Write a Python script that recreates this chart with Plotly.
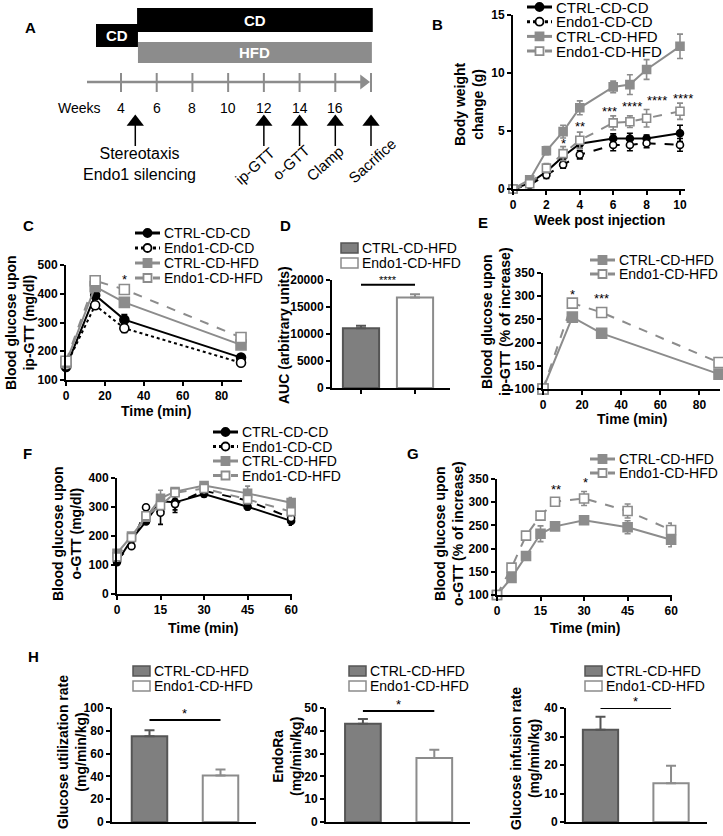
import plotly.graph_objects as go

W, H = 723, 836
FONT = "Liberation Sans, Arial, sans-serif"
BLACK = "#000000"
GRAY = "#8c8c8c"
BARGRAY = "#7f7f7f"

# ------------------------------------------------------------------ data
SERIES = ["CTRL-CD-CD", "Endo1-CD-CD", "CTRL-CD-HFD", "Endo1-CD-HFD"]
HFD_SERIES = ["CTRL-CD-HFD", "Endo1-CD-HFD"]

# A: protocol timeline (weeks)
a_ticks = [4, 6, 8, 10, 12, 14, 16]
a_end_week = 18
a_diets = [("CD", 2.6, 4.95), ("CD", 4.9, 18.1), ("HFD", 4.95, 18.05)]
a_events = ["Stereotaxis<br>Endo1 silencing", "ip-GTT", "o-GTT", "Clamp", "Sacrifice"]
a_event_weeks = [4.8, 12, 14, 16, 18]

# B: body weight change (g)
b_weeks = [0, 1, 2, 3, 4, 6, 7, 8, 10]
b_ctrl_cd = [0, 0.5, 1.5, 2.8, 3.9, 4.35, 4.35, 4.35, 4.8]
b_ctrl_cd_err = [0.1, 0.2, 0.3, 0.3, 0.4, 0.4, 0.45, 0.3, 0.7]
b_endo_cd = [0, 0.35, 1.2, 2.1, 2.95, 3.8, 3.8, 3.95, 3.8]
b_endo_cd_err = [0.1, 0.2, 0.3, 0.3, 0.35, 0.5, 0.5, 0.4, 0.55]
b_ctrl_hfd = [0, 0.8, 3.3, 4.95, 7.0, 8.8, 9.0, 10.3, 12.3]
b_ctrl_hfd_err = [0.1, 0.3, 0.35, 0.55, 0.6, 0.5, 0.85, 0.85, 1.05]
b_endo_hfd = [0, 0.45, 1.8, 3.05, 4.2, 5.7, 5.8, 6.1, 6.7]
b_endo_hfd_err = [0.1, 0.3, 0.4, 0.6, 0.7, 0.6, 0.5, 0.75, 0.7]
b_stars = ["*", "**", "***", "****", "****", "****"]
b_stars_x = [3.0, 4.0, 5.8, 7.1, 8.6, 10.2]
b_stars_y = [3.9, 5.4, 6.7, 7.1, 7.6, 7.8]

# C: ip-GTT blood glucose (mg/dl)
c_time = [0, 15, 30, 90]
c_ctrl_cd = [145, 395, 310, 178]
c_ctrl_cd_err = [5, 15, 18, 6]
c_endo_cd = [150, 360, 280, 160]
c_endo_cd_err = [5, 12, 15, 5]
c_ctrl_hfd = [160, 425, 370, 222]
c_ctrl_hfd_err = [10, 10, 10, 10]
c_endo_hfd = [165, 445, 415, 248]
c_endo_hfd_err = [10, 12, 15, 15]
c_stars = ["*"]
c_stars_x = [30]
c_stars_y = [448]

# D: AUC (arbitrary units)
d_auc = [11050, 16750]
d_auc_err = [500, 600]
d_sig = ("****", 19100)

# E: ip-GTT % of increase
e_time = [0, 15, 30, 90]
e_ctrl_hfd = [100, 255, 220, 132]
e_ctrl_hfd_err = [3, 6, 6, 5]
e_endo_hfd = [100, 285, 265, 157]
e_endo_hfd_err = [3, 8, 8, 10]
e_stars = ["*", "***"]
e_stars_x = [15, 30]
e_stars_y = [304, 294]

# F: o-GTT blood glucose (mg/dl)
f_time = [0, 5, 10, 15, 20, 30, 45, 60]
f_ctrl_cd = [110, 188, 250, 320, 316, 345, 301, 252]
f_ctrl_cd_err = [8, 8, 8, 10, 35, 10, 10, 15]
f_endo_cd = [120, 165, 299, 280, 310, 356, 322, 262]
f_endo_cd_err = [8, 8, 8, 40, 20, 10, 10, 12]
f_ctrl_hfd = [140, 200, 265, 330, 353, 374, 347, 315]
f_ctrl_hfd_err = [10, 8, 10, 28, 10, 10, 25, 18]
f_endo_hfd = [128, 195, 270, 305, 349, 364, 326, 284]
f_endo_hfd_err = [10, 8, 10, 15, 10, 10, 15, 15]

# G: o-GTT % of increase
g_time = [0, 5, 10, 15, 20, 30, 45, 60]
g_ctrl_hfd = [100, 137, 184, 232, 248, 261, 246, 219]
g_ctrl_hfd_err = [3, 5, 5, 17, 5, 8, 14, 15]
g_endo_hfd = [100, 159, 228, 271, 301, 308, 281, 240]
g_endo_hfd_err = [3, 8, 6, 5, 5, 15, 15, 15]
g_stars = ["**", "*"]
g_stars_x = [20.3, 30.4]
g_stars_y = [327, 343]

# H: clamp
h_titles = ["Glucose utilization rate<br>(mg/min/kg)", "EndoRa<br>(mg/min/kg)",
            "Glucose infusion rate<br>(mg/min/kg)"]
h_values = [[75.3, 40.7], [43.1, 28.1], [32.4, 13.6]]
h_errors = [[5.2, 5.3], [2.1, 3.6], [4.5, 6.1]]
h_sig = [("*", 89.5), ("*", 48.7), ("*", 40.0)]

# ------------------------------------------------------------------ styles
STYLE = {
    "CTRL-CD-CD": dict(color=BLACK, dash="solid", symbol="circle", fill=BLACK),
    "Endo1-CD-CD": dict(color=BLACK, dash="dash", symbol="circle", fill="white"),
    "CTRL-CD-HFD": dict(color=GRAY, dash="solid", symbol="square", fill=GRAY),
    "Endo1-CD-HFD": dict(color=GRAY, dash="dash", symbol="square", fill="white"),
}
BAR_STYLE = {
    "CTRL-CD-HFD": dict(fill=BARGRAY, line="#555555"),
    "Endo1-CD-HFD": dict(fill="white", line=GRAY),
}
TICKFONT = dict(family=FONT, size=12, color=BLACK, weight="bold")
TITLEFONT = dict(family=FONT, size=14, color=BLACK, weight="bold")


def xd(a, b):
    return [a / W, b / W]


def yd(top, bottom):
    return [1 - bottom / H, 1 - top / H]


fig = go.Figure()
axes = {}

# overlay in pixel units, used for the legend keys
axes["xaxis"] = dict(domain=[0, 1], range=[0, W], visible=False, fixedrange=True)
axes["yaxis"] = dict(domain=[0, 1], range=[H, 0], visible=False, fixedrange=True)


def panel_axes(n, xpx, ypx, xr, yr, xdt=None, ydt=None, cat=False, xticks=True):
    base = dict(showline=True, linecolor=BLACK, linewidth=2, ticks="outside",
                ticklen=4, tickwidth=2, tickcolor=BLACK, showgrid=False,
                zeroline=False, tickfont=TICKFONT, fixedrange=True, automargin=False)
    xa = dict(base, domain=xd(*xpx), range=xr, anchor=f"y{n}")
    if cat:
        xa.update(type="category", showticklabels=False,
                  ticks="outside" if xticks else "")
    else:
        xa.update(dtick=xdt, tick0=0)
    ya = dict(base, domain=yd(*ypx), range=yr, anchor=f"x{n}", dtick=ydt, tick0=0,
              tickformat="d")
    axes[f"xaxis{n}"] = xa
    axes[f"yaxis{n}"] = ya


def add_series(n, xs, ys, errs, name, msize, lw=2, dash=None, capw=3):
    st = STYLE[name]
    fig.add_trace(go.Scatter(
        x=xs, y=ys, mode="lines+markers", xaxis=f"x{n}", yaxis=f"y{n}",
        line=dict(color=st["color"], width=lw, dash=dash or st["dash"]),
        marker=dict(symbol=st["symbol"], size=msize, color=st["fill"],
                    line=dict(color=st["color"], width=1.6)),
        error_y=dict(type="data", array=errs, color=st["color"], thickness=1.6, width=capw),
        showlegend=False, hoverinfo="skip", cliponaxis=False))


def add_stars(n, texts, xs, ys, size=13):
    for t, x, y in zip(texts, xs, ys):
        fig.add_annotation(x=x, y=y, xref=f"x{n}", yref=f"y{n}", text=t,
                           showarrow=False, font=dict(family=FONT, size=size, color=BLACK))


def add_bars(n, values, errors, width):
    for name, v, e in zip(HFD_SERIES, values, errors):
        st = BAR_STYLE[name]
        fig.add_trace(go.Bar(
            x=[name], y=[v], width=width, xaxis=f"x{n}", yaxis=f"y{n}",
            marker=dict(color=st["fill"], line=dict(color=st["line"], width=2)),
            error_y=dict(type="data", symmetric=False, array=[e], arrayminus=[0],
                         color=st["line"], thickness=2, width=5),
            showlegend=False, hoverinfo="skip"))


def add_sig(n, text, level, size=13):
    fig.add_trace(go.Scatter(x=HFD_SERIES, y=[level, level], mode="lines",
                             xaxis=f"x{n}", yaxis=f"y{n}", line=dict(color=BLACK, width=2),
                             showlegend=False, hoverinfo="skip", cliponaxis=False))
    fig.add_annotation(x=0.5, y=level, xref=f"x{n}", yref=f"y{n}", text=text,
                       showarrow=False, yanchor="bottom", yshift=-3,
                       font=dict(family=FONT, size=size, color=BLACK))


def line_key(x0, y0, dy, names, size=14, dashes=None, msize=8, lw=3):
    for i, name in enumerate(names):
        st = STYLE[name]
        y = y0 + i * dy
        dash = (dashes or {}).get(name, st["dash"])
        fig.add_trace(go.Scatter(x=[x0, x0 + 25], y=[y, y], mode="lines",
                                 line=dict(color=st["color"], width=lw, dash=dash),
                                 showlegend=False, hoverinfo="skip"))
        fig.add_trace(go.Scatter(x=[x0 + 12.5], y=[y], mode="markers",
                                 marker=dict(symbol=st["symbol"], size=msize, color=st["fill"],
                                             line=dict(color=st["color"], width=1.8)),
                                 showlegend=False, hoverinfo="skip"))
        fig.add_annotation(x=x0 + 27, y=y, xref="x", yref="y", text=name, showarrow=False,
                           xanchor="left", yanchor="middle",
                           font=dict(family=FONT, size=size, color=BLACK))


def box_key(x0, y0, dy, size=14):
    for i, name in enumerate(HFD_SERIES):
        st = BAR_STYLE[name]
        y = y0 + i * dy
        fig.add_shape(type="rect", xref="x", yref="y", x0=x0, x1=x0 + 17,
                      y0=y - 5, y1=y + 5, fillcolor=st["fill"],
                      line=dict(color=st["line"], width=1.5))
        fig.add_annotation(x=x0 + 19, y=y, xref="x", yref="y", text=name, showarrow=False,
                           xanchor="left", yanchor="middle",
                           font=dict(family=FONT, size=size, color=BLACK))


def text_px(x, y, text, font, angle=0, xanchor="center"):
    fig.add_annotation(x=x / W, y=1 - y / H, xref="paper", yref="paper", text=text,
                       showarrow=False, textangle=angle, xanchor=xanchor, yanchor="middle",
                       font=font)


# ------------------------------------------------------------------ A
PXW = 250 / 14  # px per week


def wk(px):
    return 4 + (px - 121) / PXW


axes["xaxis11"] = dict(domain=xd(40, 410), range=[wk(40), wk(410)], visible=False,
                       fixedrange=True, anchor="y11")
axes["yaxis11"] = dict(domain=[0, 1], range=[H, 0], visible=False, fixedrange=True,
                       anchor="x11")
diet_rows = [(24, 47, BLACK), (8, 32, BLACK), (42, 63, GRAY)]
for (label, w0, w1), (top, bot, col) in zip(a_diets, diet_rows):
    fig.add_shape(type="rect", xref="x11", yref="y11", x0=w0, x1=w1, y0=top, y1=bot,
                  fillcolor=col, line=dict(width=0))
    fig.add_annotation(x=(w0 + w1) / 2, y=(top + bot) / 2, xref="x11", yref="y11",
                       text=label, showarrow=False,
                       font=dict(family=FONT, size=15, color="white", weight="bold"))
fig.add_shape(type="line", xref="x11", yref="y11", x0=wk(87), x1=a_end_week - 0.4,
              y0=82, y1=82, line=dict(color=GRAY, width=2.5))
fig.add_trace(go.Scatter(x=[a_end_week - 0.42], y=[82], mode="markers", xaxis="x11", yaxis="y11",
                         marker=dict(symbol="triangle-right", size=13, color=GRAY),
                         showlegend=False, hoverinfo="skip"))
for w in a_ticks + [a_end_week]:
    fig.add_shape(type="line", xref="x11", yref="y11", x0=w, x1=w, y0=73, y1=92,
                  line=dict(color=GRAY, width=2))
for w in a_ticks:
    fig.add_annotation(x=w, y=108, xref="x11", yref="y11", text=str(w), showarrow=False,
                       font=dict(family=FONT, size=14, color=BLACK))
fig.add_annotation(x=wk(103), y=108, xref="x11", yref="y11", text="Weeks", showarrow=False,
                   xanchor="right", font=dict(family=FONT, size=14, color=BLACK))
fig.add_trace(go.Scatter(x=a_event_weeks, y=[122] * len(a_event_weeks), mode="markers",
                         xaxis="x11", yaxis="y11",
                         marker=dict(symbol="triangle-up", size=15, color=BLACK),
                         showlegend=False, hoverinfo="skip"))
for w in a_event_weeks:
    fig.add_shape(type="line", xref="x11", yref="y11", x0=w, x1=w, y0=124, y1=146,
                  line=dict(color=BLACK, width=1.5))
label_pos = [(0.26, 164, 0), (-0.5, 165, -42), (-0.5, 162, -42), (-0.6, 163, -42),
             (0.06, 160, -42)]
for text, w, (dx, y, ang) in zip(a_events, a_event_weeks, label_pos):
    fig.add_annotation(x=w + dx, y=y, xref="x11", yref="y11", text=text, showarrow=False,
                       textangle=ang, font=dict(family=FONT, size=16 if ang == 0 else 15,
                                                color=BLACK))

# ------------------------------------------------------------------ B
panel_axes(2, (513, 685), (15, 189), [0, 10.3], [0, 15], 2, 5)
add_series(2, b_weeks, b_ctrl_cd, b_ctrl_cd_err, "CTRL-CD-CD", 7)
add_series(2, b_weeks, b_endo_cd, b_endo_cd_err, "Endo1-CD-CD", 7)
add_series(2, b_weeks, b_ctrl_hfd, b_ctrl_hfd_err, "CTRL-CD-HFD", 8)
add_series(2, b_weeks, b_endo_hfd, b_endo_hfd_err, "Endo1-CD-HFD", 8)
add_stars(2, b_stars, b_stars_x, b_stars_y)
line_key(527, 7, 14.7, SERIES, size=15, dashes={"Endo1-CD-CD": "dot"})
text_px(469, 104, "Body weight<br>change (g)", TITLEFONT, -90)
text_px(599, 220, "Week post injection", TITLEFONT)

# ------------------------------------------------------------------ C
panel_axes(3, (66, 242), (265, 380), [0, 90.5], [100, 500], 20, 100)
add_series(3, c_time, c_ctrl_cd, c_ctrl_cd_err, "CTRL-CD-CD", 9)
add_series(3, c_time, c_endo_cd, c_endo_cd_err, "Endo1-CD-CD", 9, dash="dot")
add_series(3, c_time, c_ctrl_hfd, c_ctrl_hfd_err, "CTRL-CD-HFD", 10)
add_series(3, c_time, c_endo_hfd, c_endo_hfd_err, "Endo1-CD-HFD", 10)
add_stars(3, c_stars, c_stars_x, c_stars_y)
line_key(135, 233, 15, SERIES, dashes={"Endo1-CD-CD": "dot"})
text_px(20, 323, "Blood glucose upon<br>ip-GTT (mg/dl)", TITLEFONT, -90)
text_px(156, 411, "Time (min)", TITLEFONT)

# ------------------------------------------------------------------ D
panel_axes(4, (332, 450), (280, 388), [-0.537, 1.648], [0, 20000], ydt=5000, cat=True)
add_bars(4, d_auc, d_auc_err, 0.67)
add_sig(4, *d_sig, size=11)
box_key(341, 248, 15)
text_px(284, 335, "AUC (arbitrary units)", TITLEFONT, -90)

# ------------------------------------------------------------------ E
panel_axes(5, (543, 720), (273, 389), [0, 90.5], [100, 350], 20, 50)
add_series(5, e_time, e_ctrl_hfd, e_ctrl_hfd_err, "CTRL-CD-HFD", 10)
add_series(5, e_time, e_endo_hfd, e_endo_hfd_err, "Endo1-CD-HFD", 10)
add_stars(5, e_stars, e_stars_x, e_stars_y)
line_key(590, 260, 14, HFD_SERIES)
text_px(496, 322, "Blood glucose upon<br>ip-GTT (% of increase)", TITLEFONT, -90)
text_px(632, 419, "Time (min)", TITLEFONT)

# ------------------------------------------------------------------ F
panel_axes(6, (117, 292), (478, 594), [0, 60.3], [0, 400], 15, 100)
add_series(6, f_time, f_ctrl_cd, f_ctrl_cd_err, "CTRL-CD-CD", 7, capw=2.5)
add_series(6, f_time, f_endo_cd, f_endo_cd_err, "Endo1-CD-CD", 7, capw=2.5)
add_series(6, f_time, f_ctrl_hfd, f_ctrl_hfd_err, "CTRL-CD-HFD", 8, capw=2.5)
add_series(6, f_time, f_endo_hfd, f_endo_hfd_err, "Endo1-CD-HFD", 8, capw=2.5)
line_key(213, 432, 14.5, SERIES, dashes={"Endo1-CD-CD": "dot"})
text_px(67, 534, "Blood glucose upon<br>o-GTT (mg/dl)", TITLEFONT, -90)
text_px(203, 628, "Time (min)", TITLEFONT)

# ------------------------------------------------------------------ G
panel_axes(7, (497, 672), (479, 595), [0, 60.3], [100, 350], 15, 50)
add_series(7, g_time, g_ctrl_hfd, g_ctrl_hfd_err, "CTRL-CD-HFD", 9)
add_series(7, g_time, g_endo_hfd, g_endo_hfd_err, "Endo1-CD-HFD", 9)
add_stars(7, g_stars, g_stars_x, g_stars_y)
line_key(590, 459, 14, HFD_SERIES)
text_px(449, 534, "Blood glucose upon<br>o-GTT (% of increase)", TITLEFONT, -90)
text_px(585, 628, "Time (min)", TITLEFONT)

# ------------------------------------------------------------------ H
h_boxes = [
    (8, (112, 256), [-0.528, 1.5], [0, 100], 20, 133, 72, 752),
    (9, (326, 470), [-0.517, 1.5], [0, 50], 10, 349, 287, 757),
    (10, (566, 707), [-0.489, 1.51], [0, 40], 10, 585, 525, 759),
]
for (n, xpx, xr, yr, ydt, kx, tx, ty), title, vals, errs, sig in zip(
        h_boxes, h_titles, h_values, h_errors, h_sig):
    panel_axes(n, xpx, (708, 822), xr, yr, ydt=ydt, cat=True, xticks=False)
    add_bars(n, vals, errs, 0.5)
    add_sig(n, *sig)
    box_key(kx, 671, 15)
    text_px(tx, ty, title, TITLEFONT, -90)

# ------------------------------------------------------------------ panel letters
letter_font = dict(family=FONT, size=15, color=BLACK, weight="bold")
for letter, x, y in [("A", 30, 27), ("B", 438, 25), ("C", 28, 225), ("D", 285, 225),
                     ("E", 483, 222), ("F", 27, 453), ("G", 413, 453), ("H", 33, 656)]:
    text_px(x, y, letter, letter_font)

fig.update_layout(
    width=W, height=H, margin=dict(l=0, r=0, t=0, b=0),
    paper_bgcolor="white", plot_bgcolor="rgba(0,0,0,0)",
    barmode="overlay", showlegend=False, font=dict(family=FONT, color=BLACK),
    **axes,
)
fig.write_html("out.html", config={"displayModeBar": False},
               post_script="document.body.style.margin='0';"
                           "document.body.style.overflow='hidden';")
